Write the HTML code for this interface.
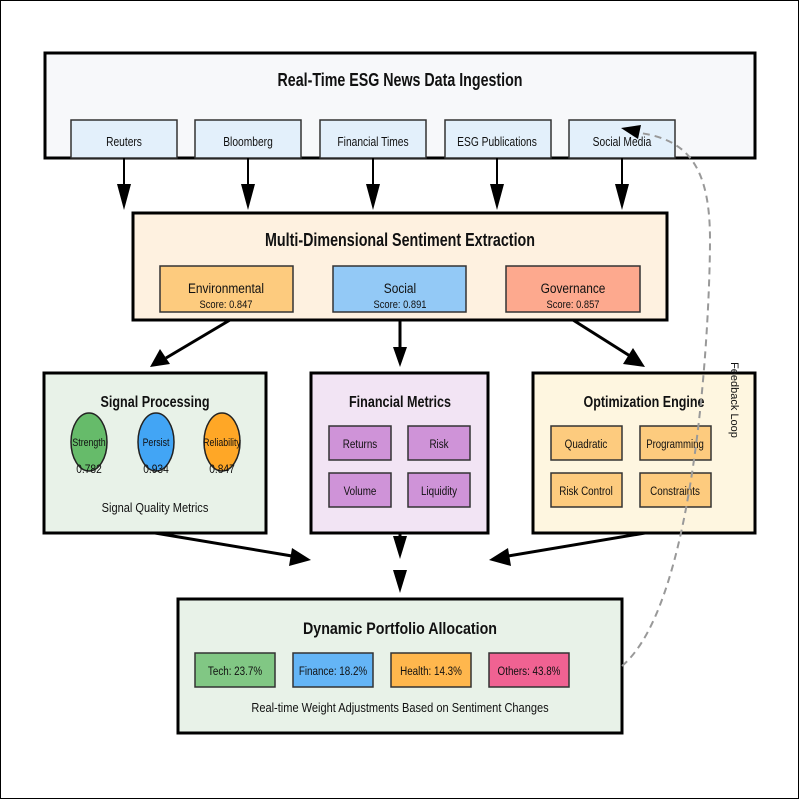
<!DOCTYPE html>
<html><head><meta charset="utf-8"><style>body{margin:0;background:#fff}svg{display:block}text{font-family:"Liberation Sans",sans-serif;fill:#111}</style></head><body>
<svg width="800" height="800" viewBox="0 0 800 800" xmlns="http://www.w3.org/2000/svg">
<rect x="0.5" y="0.5" width="798" height="798" fill="#fff" stroke="#000" stroke-width="1"/>
<rect x="45" y="53" width="710" height="105" fill="#f7f8fa" stroke="#000" stroke-width="3"/>
<text x="400" y="86" font-size="18" font-weight="bold" text-anchor="middle" textLength="245" lengthAdjust="spacingAndGlyphs">Real-Time ESG News Data Ingestion</text>
<g fill="#e3f0fb" stroke="#333" stroke-width="1.5">
<rect x="71" y="120" width="106" height="38"/><rect x="195" y="120" width="106" height="38"/><rect x="320" y="120" width="106" height="38"/><rect x="445" y="120" width="106" height="38"/><rect x="569" y="120" width="106" height="38"/></g>
<g font-size="12.5" text-anchor="middle"><text transform="translate(124 146) scale(.82 1)">Reuters</text><text transform="translate(248 146) scale(.82 1)">Bloomberg</text><text transform="translate(373 146) scale(.82 1)">Financial Times</text><text transform="translate(497 146) scale(.82 1)">ESG Publications</text><text transform="translate(622 146) scale(.82 1)">Social Media</text></g>
<g stroke="#000" stroke-width="2">
<line x1="124" y1="158" x2="124" y2="184"/><line x1="248" y1="158" x2="248" y2="184"/><line x1="373" y1="158" x2="373" y2="184"/><line x1="497" y1="158" x2="497" y2="184"/><line x1="622" y1="158" x2="622" y2="184"/></g>
<g fill="#000"><path d="M117,184h14l-7,26z"/><path d="M241,184h14l-7,26z"/><path d="M366,184h14l-7,26z"/><path d="M490,184h14l-7,26z"/><path d="M615,184h14l-7,26z"/></g>
<rect x="133" y="213" width="534" height="107" fill="#fef1e0" stroke="#000" stroke-width="3"/>
<text x="400" y="246" font-size="18" font-weight="bold" text-anchor="middle" textLength="270" lengthAdjust="spacingAndGlyphs">Multi-Dimensional Sentiment Extraction</text>
<rect x="160" y="266" width="133" height="46" fill="#fdcb7e" stroke="#333" stroke-width="1.5"/>
<rect x="333" y="266" width="133" height="46" fill="#93c9f6" stroke="#333" stroke-width="1.5"/>
<rect x="506" y="266" width="134" height="46" fill="#fda98e" stroke="#333" stroke-width="1.5"/>
<g text-anchor="middle"><text transform="translate(226 293) scale(.85 1)" font-size="14">Environmental</text><text transform="translate(226 308) scale(.85 1)" font-size="11">Score: 0.847</text>
<text transform="translate(400 293) scale(.85 1)" font-size="14">Social</text><text transform="translate(400 308) scale(.85 1)" font-size="11">Score: 0.891</text>
<text transform="translate(573 293) scale(.85 1)" font-size="14">Governance</text><text transform="translate(573 308) scale(.85 1)" font-size="11">Score: 0.857</text></g>
<g stroke="#000" stroke-width="3"><line x1="230" y1="320" x2="166" y2="358"/><line x1="400" y1="320" x2="400" y2="350"/><line x1="573" y1="320" x2="630" y2="356"/></g>
<g fill="#000"><path d="M150,367l10,-18l10,15z"/><path d="M393,347h14l-7,20z"/><path d="M645,367l-22,-3l10,-16z"/></g>
<rect x="44" y="373" width="222" height="160" fill="#e8f2e8" stroke="#000" stroke-width="3"/>
<rect x="311" y="373" width="177" height="160" fill="#f2e4f4" stroke="#000" stroke-width="3"/>
<rect x="533" y="373" width="222" height="160" fill="#fef6e0" stroke="#000" stroke-width="3"/>
<text x="155" y="407" font-size="16" font-weight="bold" text-anchor="middle" textLength="109" lengthAdjust="spacingAndGlyphs">Signal Processing</text>
<text x="400" y="407" font-size="16" font-weight="bold" text-anchor="middle" textLength="102" lengthAdjust="spacingAndGlyphs">Financial Metrics</text>
<text x="644" y="407" font-size="16" font-weight="bold" text-anchor="middle" textLength="121" lengthAdjust="spacingAndGlyphs">Optimization Engine</text>
<ellipse cx="89" cy="442" rx="18" ry="29" fill="#66bb6a" stroke="#222" stroke-width="1.5"/>
<ellipse cx="156" cy="442" rx="18" ry="29" fill="#42a5f5" stroke="#222" stroke-width="1.5"/>
<ellipse cx="222" cy="442" rx="18" ry="29" fill="#ffa726" stroke="#222" stroke-width="1.5"/>
<g font-size="11" text-anchor="middle"><text transform="translate(89 446) scale(.8 1)">Strength</text><text transform="translate(156 446) scale(.8 1)">Persist</text><text transform="translate(222 446) scale(.8 1)">Reliability</text>
<text transform="translate(89 473) scale(.85 1)" font-size="12">0.782</text><text transform="translate(156 473) scale(.85 1)" font-size="12">0.934</text><text transform="translate(222 473) scale(.85 1)" font-size="12">0.847</text></g>
<text transform="translate(155 512) scale(.85 1)" font-size="13" text-anchor="middle">Signal Quality Metrics</text>
<g fill="#cf93d8" stroke="#333" stroke-width="1.5"><rect x="329" y="426" width="62" height="34"/><rect x="408" y="426" width="62" height="34"/><rect x="329" y="473" width="62" height="34"/><rect x="408" y="473" width="62" height="34"/></g>
<g fill="#fdcb7e" stroke="#333" stroke-width="1.5"><rect x="551" y="426" width="71" height="34"/><rect x="640" y="426" width="71" height="34"/><rect x="551" y="473" width="71" height="34"/><rect x="640" y="473" width="71" height="34"/></g>
<g font-size="12" text-anchor="middle"><text transform="translate(360 448) scale(.82 1)">Returns</text><text transform="translate(439 448) scale(.82 1)">Risk</text><text transform="translate(360 495) scale(.82 1)">Volume</text><text transform="translate(439 495) scale(.82 1)">Liquidity</text>
<text transform="translate(586 448) scale(.82 1)">Quadratic</text><text transform="translate(675 448) scale(.8 1)">Programming</text><text transform="translate(586 495) scale(.82 1)">Risk Control</text><text transform="translate(675 495) scale(.82 1)">Constraints</text></g>
<g stroke="#000" stroke-width="3"><line x1="155" y1="533" x2="292" y2="556"/><line x1="400" y1="533" x2="400" y2="545"/><line x1="645" y1="533" x2="508" y2="556"/></g>
<g fill="#000"><path d="M311,560l-22,6l3,-18z"/><path d="M393,536h14l-7,23z"/><path d="M393,570h14l-7,23z"/><path d="M489,560l19,-12l3,18z"/></g>
<rect x="178" y="599" width="444" height="134" fill="#e8f2e8" stroke="#000" stroke-width="3"/>
<text x="400" y="634" font-size="17" font-weight="bold" text-anchor="middle" textLength="194" lengthAdjust="spacingAndGlyphs">Dynamic Portfolio Allocation</text>
<rect x="195" y="653" width="80" height="34" fill="#81c784" stroke="#333" stroke-width="1.5"/>
<rect x="293" y="653" width="80" height="34" fill="#64b5f6" stroke="#333" stroke-width="1.5"/>
<rect x="391" y="653" width="80" height="34" fill="#ffb74d" stroke="#333" stroke-width="1.5"/>
<rect x="489" y="653" width="80" height="34" fill="#f06292" stroke="#333" stroke-width="1.5"/>
<g font-size="12" text-anchor="middle"><text transform="translate(235 675) scale(.82 1)">Tech: 23.7%</text><text transform="translate(333 675) scale(.82 1)">Finance: 18.2%</text><text transform="translate(431 675) scale(.82 1)">Health: 14.3%</text><text transform="translate(529 675) scale(.82 1)">Others: 43.8%</text></g>
<text transform="translate(400 712) scale(.85 1)" font-size="13" text-anchor="middle">Real-time Weight Adjustments Based on Sentiment Changes</text>
<path d="M622,666 C700,600 710,300 710,240 C710,170 690,140 640,133" fill="none" stroke="#999" stroke-width="2" stroke-dasharray="7,5"/>
<path d="M621,128l20,-3l-3,14z" fill="#000"/>
<text x="728" y="400" font-size="11" text-anchor="middle" transform="rotate(90 728 400)" dy="-3">Feedback Loop</text>
</svg>
</body></html>
